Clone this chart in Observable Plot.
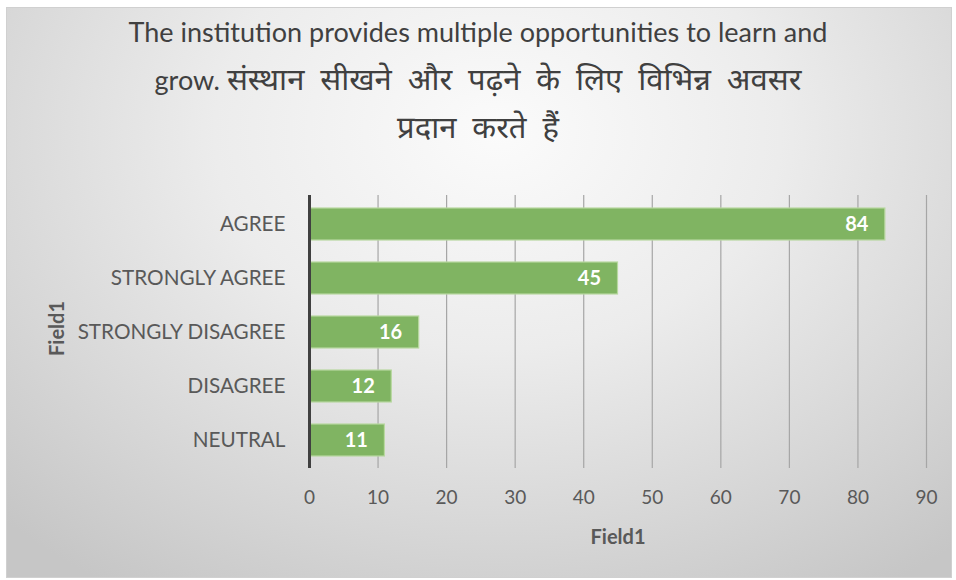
<!DOCTYPE html>
<html>
<head>
<meta charset="utf-8">
<script src="https://cdn.jsdelivr.net/npm/d3@7"></script>
<script src="https://cdn.jsdelivr.net/npm/@observablehq/plot@0.6"></script>
<style>
  html, body { margin: 0; padding: 0; background: #ffffff; }
  #chart {
    position: absolute; left: 6px; top: 7px; width: 946px; height: 571px;
    box-sizing: border-box; border: 1px solid #d0d0d0;
    background: radial-gradient(ellipse 75% 95% at 52% 22%, #fbfbfb 0%, #ececec 40%, #d6d6d6 75%, #c6c6c6 100%);
  }
  #title {
    position: absolute; left: 0; top: 8px; width: 956px; text-align: center;
    font-family: Lato, "Noto Sans Devanagari", "Lohit Devanagari", "Noto Sans", sans-serif;
    font-size: 27px; line-height: 47px; color: #404040; font-weight: 400;
  }
  #title .hi { font-size: 31px; word-spacing: 8px; }
  #plot { position: absolute; left: 0; top: 175px; }
</style>
</head>
<body>
<div id="chart"></div>
<div id="title">The institution provides multiple opportunities to learn and<br>grow. <span class="hi">संस्थान सीखने और पढ़ने के लिए विभिन्न अवसर</span><br><span class="hi">प्रदान करते हैं</span></div>
<div id="plot"></div>
<script>
const categories = ["AGREE", "STRONGLY AGREE", "STRONGLY DISAGREE", "DISAGREE", "NEUTRAL"];
const values = [84, 45, 16, 12, 11];
const xTicks = [0, 10, 20, 30, 40, 50, 60, 70, 80, 90];
const axisTitle = "Field1";

const data = categories.map((c, i) => ({cat: c, value: values[i]}));

const plot = Plot.plot({
  width: 956,
  height: 405,
  marginTop: 20,
  marginBottom: 112,
  marginLeft: 309,
  marginRight: 30,
  style: {fontFamily: "Lato, 'Noto Sans', sans-serif", fontSize: "20px", color: "#595959", background: "transparent"},
  x: {domain: [0, 90]},
  y: {domain: categories, paddingInner: 0.414, paddingOuter: 0.207},
  marks: [
    Plot.gridX(xTicks, {stroke: "#a6a6a6", strokeOpacity: 1, strokeWidth: 1.2}),
    Plot.barX(data, {x: "value", y: "cat", fill: "#80b462", stroke: "#b8d8a0", strokeWidth: 1.2}),
    Plot.ruleX([0], {stroke: "#404040", strokeWidth: 3}),
    Plot.axisX(xTicks, {tickSize: 0, tickPadding: 22, label: null, fontSize: 19}),
    Plot.axisY({tickSize: 0, tickPadding: 24, label: null, fontSize: 20.7}),
    Plot.text(data, {x: "value", y: "cat", text: d => String(d.value), textAnchor: "end", dx: -17, fill: "white", fontWeight: "bold", fontSize: 20}),
    Plot.text([axisTitle], {frameAnchor: "bottom", text: d => d, dy: 75, fontWeight: "bold", fontSize: 20, fill: "#595959"}),
    Plot.text([axisTitle], {frameAnchor: "left", text: d => d, dx: -252, dy: 24, rotate: -90, fontWeight: "bold", fontSize: 20, fill: "#595959"})
  ]
});
document.getElementById("plot").appendChild(plot);
</script>
</body>
</html>
